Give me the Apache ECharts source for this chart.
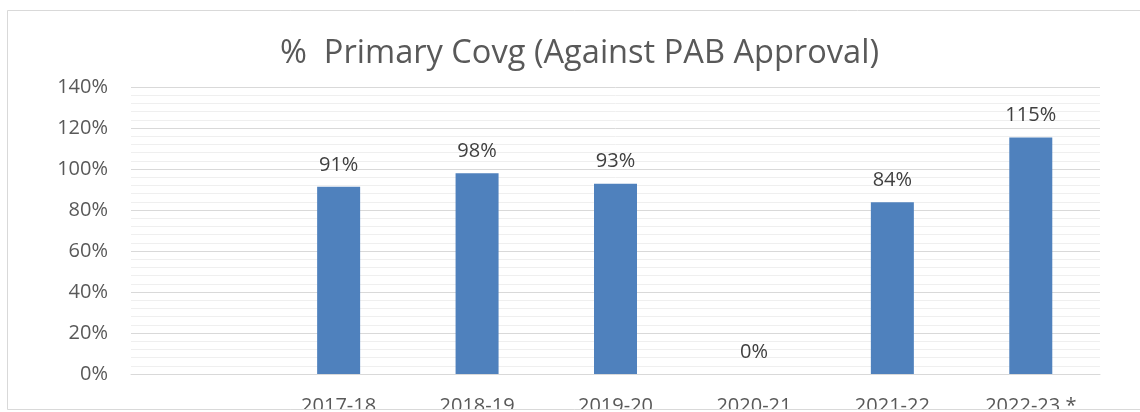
<!DOCTYPE html>
<html><head><meta charset="utf-8">
<script src="https://cdn.jsdelivr.net/npm/echarts@6/dist/echarts.min.js"></script>
<style>html,body{margin:0;padding:0;background:#fff}#c{width:1140px;height:412px}</style>
</head><body><div id="c"></div>
<script>
const categories = ['', '2017-18', '2018-19', '2019-20', '2020-21', '2021-22', '2022-23 *'];
const coverage = [null, 91.3, 97.9, 92.8, 0, 83.8, 115.4];
const yTicks = [0, 20, 40, 60, 80, 100, 120, 140];
const titleText = '%  Primary Covg (Against PAB Approval)';

const chart = echarts.init(document.getElementById('c'), null, {renderer: 'canvas'});
chart.setOption({
  animation: false,
  backgroundColor: '#fff',
  title: {
    text: titleText, left: 280, top: 37, padding: 0,
    textStyle: {fontFamily: 'Open Sans', fontSize: 32.6, fontWeight: 'normal', color: '#595959'}
  },
  graphic: [
    {type: 'rect', z: 100, shape: {x: 0, y: 409, width: 1140, height: 3}, style: {fill: '#fff'}, silent: true},
    {type: 'rect', z: 101, shape: {x: 7.5, y: 10.5, width: 1200, height: 399}, style: {fill: 'none', stroke: '#d9d9d9', lineWidth: 1}, silent: true}
  ],
  grid: {left: 131, right: 40, top: 87, bottom: 38, containLabel: false, outerBoundsMode: 'none'},
  xAxis: {
    type: 'category', data: categories,
    axisLine: {lineStyle: {color: '#d9d9d9', width: 1}},
    axisTick: {show: false},
    axisLabel: {margin: 22, fontFamily: 'Open Sans', fontSize: 20, color: '#595959', interval: 0}
  },
  yAxis: {
    type: 'value', min: yTicks[0], max: yTicks[yTicks.length - 1], interval: 20,
    axisLine: {show: false}, axisTick: {show: false},
    axisLabel: {margin: 23, fontFamily: 'Open Sans', fontSize: 20, color: '#595959', formatter: v => v + '%'},
    splitLine: {lineStyle: {color: '#d9d9d9', width: 1}},
    minorTick: {show: false, splitNumber: 5},
    minorSplitLine: {show: true, lineStyle: {color: '#efefef', width: 1}}
  },
  series: [{
    type: 'bar', data: coverage, barWidth: 43,
    itemStyle: {color: '#4f81bd'},
    label: {show: true, position: 'top', distance: 12, fontFamily: 'Open Sans', fontSize: 20, color: '#404040',
      formatter: p => p.value == null ? '' : Math.round(p.value) + '%'}
  }]
});
</script></body></html>
